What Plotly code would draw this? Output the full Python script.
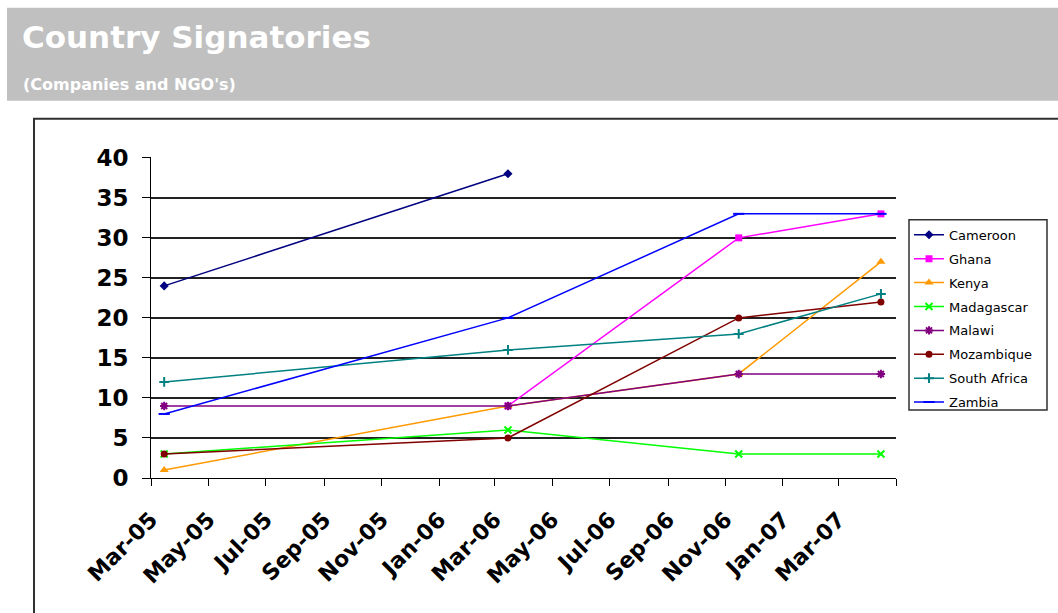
import plotly.graph_objects as go

# ---- data ----
dates = ["2005-03-15", "2006-03-15", "2006-11-15", "2007-04-15"]
countries = ["Cameroon", "Ghana", "Kenya", "Madagascar", "Malawi",
             "Mozambique", "South Africa", "Zambia"]
cameroon = [24, 38, None, None]
ghana = [None, 9, 30, 33]
kenya = [1, 9, 13, 27]
madagascar = [3, 6, 3, 3]
malawi = [9, 9, 13, 13]
mozambique = [3, 5, 20, 22]
south_africa = [12, 16, 18, 23]
zambia = [8, 20, 33, 33]

tick_dates = ["2005-03-01", "2005-05-01", "2005-07-01", "2005-09-01",
              "2005-11-01", "2006-01-01", "2006-03-01", "2006-05-01",
              "2006-07-01", "2006-09-01", "2006-11-01", "2007-01-01",
              "2007-03-01", "2007-05-01"]
tick_labels = ["Mar-05", "May-05", "Jul-05", "Sep-05", "Nov-05", "Jan-06",
               "Mar-06", "May-06", "Jul-06", "Sep-06", "Nov-06", "Jan-07",
               "Mar-07", ""]
y_ticks = [0, 5, 10, 15, 20, 25, 30, 35, 40]

series_values = [cameroon, ghana, kenya, madagascar, malawi,
                 mozambique, south_africa, zambia]
colors = ["#000080", "#FF00FF", "#FF9900", "#00FF00", "#800080",
          "#800000", "#008080", "#0000FF"]
symbols = ["diamond", "square", "triangle-up", "x-thin-open",
           "asterisk-open", "circle", "cross-thin-open", "line-ew-open"]
sizes = [7, 7, 8, 7, 7, 7, 7, 8]

# ---- layout geometry (pixels) ----
W, H = 1058, 613
Y_TOP = 40.1                # small headroom so the 40 gridline is drawn
L, R, B = 151, 896, 478
T = B - 320 * Y_TOP / 40    # keep 8 px per unit, 40 at y=158
PW, PH = R - L, B - T


def px(x):
    return (x - L) / PW


def py(y):
    return (B - y) / PH


fig = go.Figure()
for name, vals, col, sym, sz in zip(countries, series_values, colors, symbols, sizes):
    open_sym = sym.endswith("-open")
    fig.add_trace(go.Scatter(
        x=dates, y=vals, name=name, mode="lines+markers",
        legendgroup=name,
        line=dict(color=col, width=1.5),
        marker=dict(symbol=sym, size=sz, color=col,
                    line=dict(color=col, width=2 if open_sym else 0)),
    ))

fig.update_layout(
    width=W, height=H, autosize=False,
    margin=dict(l=L, r=W - R, t=T, b=H - B, pad=0, autoexpand=False),
    paper_bgcolor="white", plot_bgcolor="white",
    font=dict(family="DejaVu Sans", color="black"),
    showlegend=True,
    legend=dict(
        x=px(909), xanchor="left", y=py(220), yanchor="top",
        borderwidth=0, bgcolor="rgba(0,0,0,0)",
        font=dict(family="DejaVu Sans", size=13, color="black"),
        traceorder="grouped", tracegroupgap=4,
        itemwidth=30,
    ),
    xaxis=dict(
        type="date", range=["2005-03-01", "2007-05-01"], automargin=False,
        tickmode="array", tickvals=tick_dates, ticktext=tick_labels,
        tickangle=-45, ticks="outside", ticklen=7, tickcolor="black",
        tickfont=dict(family="DejaVu Sans", size=22, weight="bold", color="black"),
        showline=True, linecolor="black", linewidth=1,
        showgrid=False, zeroline=False, ticklabelstandoff=12,
    ),
    yaxis=dict(
        range=[0, Y_TOP], tickmode="array", tickvals=y_ticks, automargin=False,
        ticks="outside", ticklen=8, tickcolor="black",
        tickfont=dict(family="DejaVu Sans", size=23, weight="bold", color="black"),
        showline=True, linecolor="black", linewidth=1,
        showgrid=True, gridcolor="#222222", gridwidth=1.5, zeroline=False,
        ticklabelstandoff=9,
    ),
    shapes=[
        dict(type="rect", xref="paper", yref="paper",
             x0=px(7), x1=px(1062), y0=py(101), y1=py(8),
             fillcolor="#C0C0C0", line=dict(width=0), layer="below"),
        dict(type="rect", xref="paper", yref="paper",
             x0=px(34), x1=px(1070), y0=py(630), y1=py(119),
             fillcolor="rgba(0,0,0,0)", line=dict(color="#303030", width=2),
             layer="below"),
        dict(type="rect", xref="paper", yref="paper",
             x0=px(909), x1=px(1047), y0=py(410), y1=py(220),
             fillcolor="rgba(0,0,0,0)", line=dict(color="#303030", width=1.5),
             layer="below"),
    ],
    annotations=[
        dict(text="Country Signatories", xref="paper", yref="paper",
             x=px(20), y=py(37.5), xanchor="left", yanchor="middle",
             showarrow=False,
             font=dict(family="DejaVu Sans", size=31, weight="bold", color="white")),
        dict(text="(Companies and NGO's)", xref="paper", yref="paper",
             x=px(21), y=py(85), xanchor="left", yanchor="middle",
             showarrow=False,
             font=dict(family="DejaVu Sans", size=16, weight="bold", color="white")),
    ],
)

fig.write_html("out.html")
